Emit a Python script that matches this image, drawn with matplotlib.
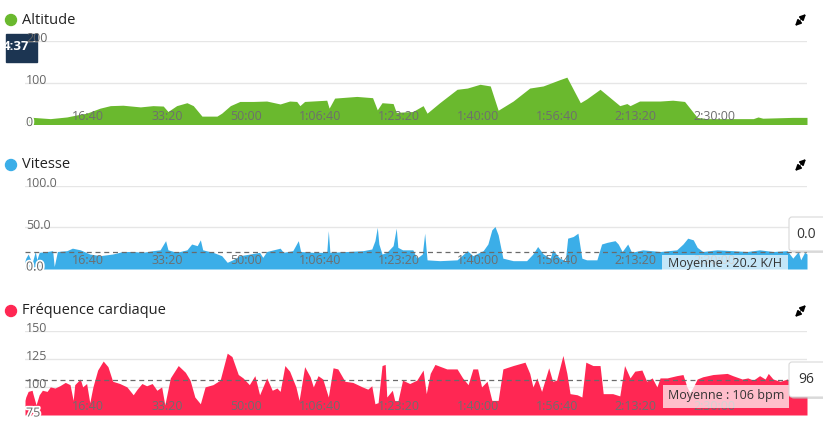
import matplotlib
matplotlib.use('Agg')
import matplotlib.pyplot as plt
import matplotlib.patheffects as pe
import matplotlib.transforms as mtransforms
from matplotlib.patches import Rectangle, Circle, FancyBboxPatch

plt.rcParams['font.family'] = ['Open Sans', 'DejaVu Sans']

# temps en secondes
alt_t = [0, 100, 320, 530, 660, 780, 950, 1080, 1240, 1460, 1620, 1750, 1810, 1920, 2050, 2130, 2240, 2430, 2490, 2600,
         2720, 2890, 3060, 3230, 3350, 3440, 3480, 3540, 3820, 3850, 3920, 4200, 4400, 4460, 4520, 4660, 4700, 4910, 5040, 5090,
         5250, 5470, 5600, 5760, 5890, 5990, 6180, 6390, 6560, 6770, 6860, 7030, 7110, 7280, 7530, 7620, 7660, 7780, 8040, 8200,
         8350, 8510, 8630, 9220, 9280, 9340, 9720, 9900]
alt_v = [14, 17, 14, 18, 23, 27, 39, 45, 46, 42, 45, 44, 31, 45, 52, 45, 20, 20, 27, 45,
         55, 55, 56, 49, 56, 55, 45, 55, 58, 39, 63, 67, 64, 35, 52, 50, 29, 31, 45, 27,
         52, 84, 87, 96, 92, 34, 56, 87, 92, 107, 113, 52, 61, 84, 45, 50, 45, 56, 56, 58,
         55, 17, 14, 14, 18, 15, 17, 17]

spd_t = [0, 10, 40, 90, 130, 150, 180, 280, 350, 370, 410, 530, 600, 700, 820, 950, 1110, 1240, 1370, 1490,
         1620, 1710, 1780, 1810, 1920, 2050, 2110, 2180, 2220, 2250, 2380, 2490, 2560, 2630, 2720, 2850, 2970, 3010, 3060, 3230,
         3270, 3390, 3460, 3490, 3650, 3820, 3840, 3860, 4080, 4280, 4390, 4430, 4460, 4480, 4520, 4580, 4660, 4700, 4720, 4780,
         4910, 4960, 5030, 5060, 5090, 5250, 5470, 5600, 5670, 5800, 5860, 5910, 5950, 5990, 6050, 6180, 6350, 6430, 6490, 6560,
         6650, 6680, 6770, 6840, 6870, 6940, 7000, 7050, 7110, 7240, 7300, 7370, 7470, 7510, 7560, 7630, 7680, 7820, 8040, 8250,
         8330, 8390, 8460, 8510, 8580, 8760, 8960, 9140, 9300, 9470, 9650, 9720, 9790, 9820, 9870, 9900]
spd_v = [10, 13, 18, 7, 21, 11, 20, 21, 22, 3, 21, 22, 25, 23, 18, 16, 18, 21, 21, 20,
         22, 23, 34, 23, 20, 23, 30, 28, 35, 23, 20, 16, 8, 11, 16, 18, 20, 14, 21, 25,
         20, 22, 34, 21, 20, 20, 46, 20, 21, 22, 24, 34, 50, 30, 18, 20, 28, 49, 26, 23,
         23, 13, 18, 43, 11, 10, 11, 22, 16, 22, 30, 47, 51, 41, 13, 10, 10, 18, 27, 18,
         13, 23, 13, 10, 37, 39, 43, 13, 11, 11, 30, 32, 34, 30, 21, 30, 20, 23, 21, 23,
         30, 37, 35, 26, 21, 23, 22, 21, 23, 21, 22, 13, 21, 11, 20, 18]
spd_moy = 20.2

hr_t = [0, 10, 40, 90, 100, 140, 180, 220, 280, 320, 380, 440, 510, 570, 610, 630, 700, 730, 780, 820,
        860, 920, 990, 1050, 1110, 1200, 1290, 1370, 1420, 1480, 1540, 1610, 1670, 1730, 1770, 1840, 1940, 2030, 2090, 2150,
        2220, 2280, 2380, 2470, 2560, 2620, 2700, 2760, 2840, 2910, 2970, 3060, 3130, 3190, 3230, 3290, 3350, 3430, 3470, 3540,
        3610, 3650, 3710, 3770, 3840, 3900, 3960, 4050, 4150, 4270, 4340, 4390, 4430, 4470, 4520, 4560, 4580, 4650, 4680, 4720,
        4780, 4870, 4960, 5040, 5080, 5130, 5190, 5340, 5470, 5540, 5610, 5670, 5730, 5780, 5850, 5910, 5990, 6050, 6180, 6330,
        6390, 6430, 6480, 6540, 6630, 6680, 6730, 6810, 6860, 6900, 6990, 7050, 7100, 7190, 7280, 7320, 7440, 7530, 7590, 7660,
        7720, 7810, 7870, 7940, 8000, 8040, 8130, 8250, 8330, 8380, 8420, 8460, 8510, 8580, 8710, 8890, 8960, 9080, 9150, 9220,
        9300, 9370, 9410, 9470, 9560, 9650, 9720, 9810, 9900]
hr_v = [88, 91, 96, 97, 94, 84, 93, 97, 96, 100, 99, 101, 104, 102, 88, 102, 107, 100, 103, 86,
        100, 115, 123, 118, 105, 103, 100, 93, 98, 103, 101, 103, 97, 100, 84, 108, 119, 113, 106, 91,
        85, 100, 102, 106, 130, 127, 111, 108, 102, 110, 93, 108, 97, 99, 96, 119, 114, 100, 88, 118,
        109, 100, 110, 107, 91, 117, 116, 105, 104, 100, 98, 101, 85, 86, 119, 120, 91, 97, 88, 87,
        106, 103, 106, 115, 94, 112, 120, 116, 116, 108, 102, 116, 116, 100, 105, 88, 88, 116, 119, 122,
        112, 100, 108, 96, 117, 105, 106, 128, 112, 94, 93, 91, 122, 119, 119, 94, 94, 92, 119, 108,
        114, 115, 105, 108, 100, 108, 108, 110, 111, 100, 95, 100, 107, 109, 111, 112, 110, 107, 108, 106,
        110, 107, 112, 107, 105, 107, 103, 101, 106]
hr_moy = 106

tick_times = [1000, 2000, 3000, 4000, 5000, 6000, 7000, 8000, 9000]
tick_labels = ['16:40', '33:20', '50:00', '1:06:40', '1:23:20', '1:40:00', '1:56:40', '2:13:20', '2:30:00']
t_max = 9900

W, H = 823, 424
fig = plt.figure(figsize=(W / 100, H / 100), dpi=100)

def px_axes(left, top, right, bottom, z):
    a = fig.add_axes([left / W, 1 - bottom / H, (right - left) / W, (bottom - top) / H])
    a.set_zorder(z)
    return a

back = px_axes(0, 0, W, H, 0)
back.set_xlim(0, W)
back.set_ylim(H, 0)
back.set_axis_off()

halo = [pe.withStroke(linewidth=2.5, foreground='white')]
lab_col = '#666666'

def panel(top, bottom, t, v, ymin, ymax, yticks, ylabels, color, moy=None):
    ax = px_axes(25, top, 807, bottom, 1)
    ax.set_xlim(0, t_max)
    ax.set_ylim(ymin, ymax)
    ax.set_axis_off()
    for yv in yticks[1:]:
        ax.axhline(yv, color='#e6e6e6', lw=1, zorder=0)
    ax.fill_between(t, v, ymin, color=color, lw=0, zorder=1)
    if moy is not None:
        ax.axhline(moy, color='#6a6a6a', lw=0.9, ls=(0, (4, 3)), zorder=2)
    trans = mtransforms.blended_transform_factory(ax.transAxes, ax.transData)
    trans = mtransforms.offset_copy(trans, fig=fig, x=1, y=2, units='dots')
    for yv, yl in zip(yticks, ylabels):
        txt = ax.text(0, yv, yl, transform=trans, ha='left', va='center', fontsize=9, color=lab_col, zorder=3)
        if yv == ymin:
            txt.set_path_effects(halo)
    xtr = mtransforms.offset_copy(ax.get_xaxis_transform(), fig=fig, x=0, y=8, units='dots')
    for tt, tl in zip(tick_times, tick_labels):
        ax.text(tt, 0, tl, transform=xtr, ha='right', va='center', fontsize=9, color='#6e6e6e', zorder=3)
    return ax

green = '#6ab92e'
blue = '#3baee8'
red = '#ff2753'

panel(40.7, 124.5, alt_t, alt_v, 0, 200, [0, 100, 200], ['0', '100', '200'], green)
panel(185.7, 269, spd_t, spd_v, 0, 100, [0, 50, 100], ['0.0', '50.0', '100.0'], blue, spd_moy)
panel(330.7, 415, hr_t, hr_v, 75, 150, [75, 100, 125, 150], ['75', '100', '125', '150'], red, hr_moy)

# titres
for y, name, c in [(20, 'Altitude', green), (165, 'Vitesse', blue), (311, 'Fréquence cardiaque', red)]:
    back.add_patch(Circle((11, y), 5.5, color=c))
    back.text(22, y, name, ha='left', va='center', fontsize=10.5, color='#222222')
    back.annotate('', xy=(806, y - 6), xytext=(801, y - 1),
                  arrowprops=dict(arrowstyle='-|>', color='k', lw=1.3, mutation_scale=8, shrinkA=0, shrinkB=0))
    back.annotate('', xy=(795, y + 6), xytext=(800, y + 1),
                  arrowprops=dict(arrowstyle='-|>', color='k', lw=1.3, mutation_scale=8, shrinkA=0, shrinkB=0))

box = Rectangle((6, 34), 31, 28, color='#1c3552', zorder=1)
back.add_patch(box)
tb = back.text(29, 47, '4:37', ha='right', va='center', fontsize=9.5, fontweight='bold', color='white', zorder=2)
tb.set_clip_path(box)

front = px_axes(0, 0, W, H, 3)
front.set_xlim(0, W)
front.set_ylim(H, 0)
front.set_axis_off()
front.patch.set_visible(False)

front.add_patch(Rectangle((662, 255), 126, 17, fc='white', alpha=0.7, ec='none'))
front.text(725, 264, 'Moyenne : %.1f K/H' % spd_moy, ha='center', va='center', fontsize=9, color='#333333')
front.add_patch(Rectangle((663, 385), 126, 23, fc='white', alpha=0.7, ec='none'))
front.text(726, 396, 'Moyenne : %d bpm' % hr_moy, ha='center', va='center', fontsize=9, color='#333333')

for (y0, h, lab) in [(217, 34, '0.0'), (362, 35, '96')]:
    front.add_patch(FancyBboxPatch((791, y0 + 2), 40, h, boxstyle='round,pad=0,rounding_size=3',
                                   fc='#bbbbbb', ec='none', alpha=0.5))
    front.add_patch(FancyBboxPatch((789, y0), 40, h, boxstyle='round,pad=0,rounding_size=3',
                                   fc='white', ec='#d8d8d8', lw=0.8))
    front.text(806, y0 + h / 2, lab, ha='center', va='center', fontsize=10, color='#333333')

fig.savefig('out.png', dpi=100)
